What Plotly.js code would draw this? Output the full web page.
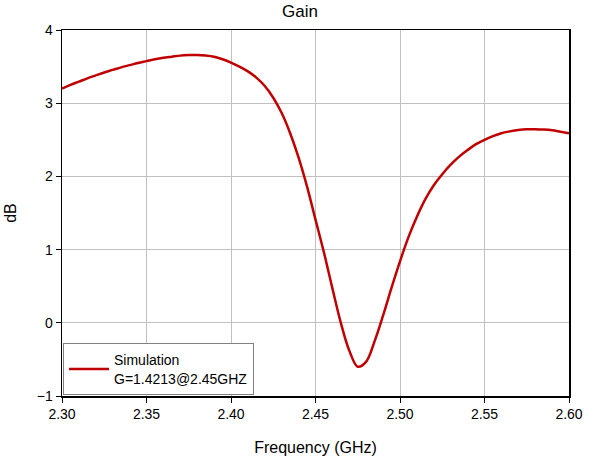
<!DOCTYPE html>
<html>
<head>
<meta charset="utf-8">
<script src="https://cdn.plot.ly/plotly-3.0.1.min.js"></script>
<style>
  html, body { margin: 0; padding: 0; background: #fff; }
  #myPlot { width: 600px; height: 461px; }
</style>
</head>
<body>
<div id="myPlot"></div>
<script>
// Frequency (GHz), every 0.005, and simulated gain (dB)
var freq = [2.300, 2.305, 2.310, 2.315, 2.320, 2.325, 2.330, 2.335, 2.340, 2.345,
            2.350, 2.355, 2.360, 2.365, 2.370, 2.375, 2.380, 2.385, 2.390, 2.395,
            2.400, 2.405, 2.410, 2.415, 2.420, 2.425, 2.430, 2.435, 2.440, 2.445,
            2.450, 2.455, 2.460, 2.465, 2.470, 2.475, 2.480, 2.485, 2.490, 2.495,
            2.500, 2.505, 2.510, 2.515, 2.520, 2.525, 2.530, 2.535, 2.540, 2.545,
            2.550, 2.555, 2.560, 2.565, 2.570, 2.575, 2.580, 2.585, 2.590, 2.595,
            2.600];
var gain = [3.20, 3.25, 3.295, 3.34, 3.38, 3.42, 3.455, 3.49, 3.52, 3.55,
            3.575, 3.60, 3.62, 3.635, 3.65, 3.657, 3.66, 3.652, 3.635, 3.60,
            3.555, 3.50, 3.435, 3.35, 3.235, 3.075, 2.865, 2.59, 2.255, 1.86,
            1.41, 0.96, 0.47, 0.00, -0.38, -0.60, -0.53, -0.25, 0.10, 0.48,
            0.84, 1.17, 1.45, 1.69, 1.88, 2.03, 2.16, 2.27, 2.36, 2.44,
            2.50, 2.55, 2.59, 2.615, 2.635, 2.645, 2.645, 2.64, 2.63, 2.61,
            2.59];

var seriesName = "Simulation<br>G=1.4213@2.45GHZ";
var xTicks = [2.30, 2.35, 2.40, 2.45, 2.50, 2.55, 2.60];
var xTickText = ["2.30", "2.35", "2.40", "2.45", "2.50", "2.55", "2.60"];
var yTicks = [-1, 0, 1, 2, 3, 4];

var data = [{
    x: freq,
    y: gain,
    name: seriesName,
    mode: "lines",
    line: { color: "#c00000", width: 2.5, shape: "spline", smoothing: 1, simplify: false },
    showlegend: true
}];

var font = "Liberation Sans, Arial, sans-serif";

var layout = {
    width: 600,
    height: 461,
    margin: { l: 62, r: 31, t: 30, b: 65 },
    paper_bgcolor: "#fff",
    plot_bgcolor: "#fff",
    font: { family: font, size: 14, color: "#000" },
    title: { text: "Gain", font: { family: font, size: 17, color: "#000" }, x: 0.5, xanchor: "center", y: 0.975, yanchor: "middle" },
    xaxis: {
        range: [2.30, 2.60],
        tickvals: xTicks,
        ticktext: xTickText,
        ticks: "outside",
        ticklen: 5,
        tickcolor: "#000",
        showline: true,
        linecolor: "#000",
        linewidth: 1.5,
        mirror: true,
        showgrid: true,
        gridcolor: "#c0c0c0",
        gridwidth: 1,
        zeroline: false,
        tickfont: { size: 14 },
        title: { text: "Frequency (GHz)", font: { size: 16 }, standoff: 20 }
    },
    yaxis: {
        range: [-1, 4],
        tickvals: yTicks,
        ticks: "outside",
        ticklen: 5,
        tickcolor: "#000",
        showline: true,
        linecolor: "#000",
        linewidth: 1.5,
        mirror: true,
        showgrid: true,
        gridcolor: "#c0c0c0",
        gridwidth: 1,
        zeroline: false,
        tickfont: { size: 14 },
        title: { text: "dB", font: { size: 16 }, standoff: 16 }
    },
    legend: {
        x: 0.002,
        y: 0.002,
        xanchor: "left",
        yanchor: "bottom",
        bgcolor: "#fff",
        bordercolor: "#808080",
        borderwidth: 1,
        itemwidth: 40,
        font: { size: 14 }
    }
};

Plotly.newPlot("myPlot", data, layout, { displayModeBar: false, staticPlot: true });
</script>
</body>
</html>
